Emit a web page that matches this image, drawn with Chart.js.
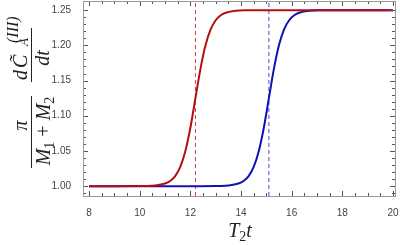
<!DOCTYPE html>
<html>
<head>
<meta charset="utf-8">
<script src="https://cdn.jsdelivr.net/npm/chart.js@4/dist/chart.umd.min.js"></script>
<style>
  html, body { margin: 0; padding: 0; background: #fff; }
  canvas { display: block; }
</style>
</head>
<body>
<canvas id="chart" width="400" height="245"></canvas>
<script>
// values
const redX = [8, 9, 10, 10.2, 10.6, 11.0, 11.2, 11.4, 11.6, 11.8, 12.0, 12.2, 12.4, 12.6, 12.8, 13.0, 13.2, 13.4, 13.8, 14.2, 15, 16, 18, 20];
const redY = [1.0, 1.0, 1.0001, 1.0002, 1.0009, 1.0037, 1.0073, 1.0143, 1.0273, 1.0495, 1.0830, 1.125, 1.1670, 1.2005, 1.2227, 1.2357, 1.2427, 1.2463, 1.2491, 1.2498, 1.25, 1.25, 1.25, 1.25];

const blueX = [8, 10, 12, 13, 13.1, 13.5, 13.9, 14.1, 14.3, 14.5, 14.7, 14.9, 15.1, 15.3, 15.5, 15.7, 15.9, 16.1, 16.3, 16.7, 17.1, 18, 20];
const blueY = [1.0, 1.0, 1.0, 1.0001, 1.0002, 1.0009, 1.0037, 1.0073, 1.0143, 1.0273, 1.0495, 1.0830, 1.125, 1.1670, 1.2005, 1.2227, 1.2357, 1.2427, 1.2463, 1.2491, 1.2498, 1.25, 1.25];

const markers = [12.2, 15.1];   // dashed verticals
const xTicks = [8, 10, 12, 14, 16, 18, 20];
const yTicks = [1.00, 1.05, 1.10, 1.15, 1.20, 1.25];

const xRange = [7.76, 20.08];
const yRange = [0.986, 1.263];

function pts(xs, ys) {
  return xs.map((x, i) => ({ x: x, y: ys[i] }));
}

const serif = "'Liberation Serif', 'DejaVu Serif', serif";
const sans = "'Liberation Sans', Arial, sans-serif";

function noPad(s) {
  s.paddingTop = 0; s.paddingBottom = 0; s.paddingLeft = 0; s.paddingRight = 0;
}

// inward ticks on all four sides + gray frame
const framePlugin = {
  id: "frame",
  afterDraw(chart) {
    const ctx = chart.ctx;
    const a = chart.chartArea;
    const xs = chart.scales.x, ys = chart.scales.y;
    ctx.save();
    ctx.strokeStyle = "#555";
    ctx.lineWidth = 1;
    ctx.beginPath();
    for (let v = 8; v <= 20.001; v += 0.5) {
      const px = Math.round(xs.getPixelForValue(v)) + 0.5;
      const len = Math.abs(v % 2) < 0.01 ? 5 : 3;
      ctx.moveTo(px, a.bottom); ctx.lineTo(px, a.bottom - len);
      ctx.moveTo(px, a.top); ctx.lineTo(px, a.top + len);
    }
    for (let i = 0; i <= 26; i++) {
      const v = 0.99 + i * 0.01;
      const py = Math.round(ys.getPixelForValue(v)) + 0.5;
      const len = i % 5 === 1 ? 5 : 3;
      ctx.moveTo(a.left, py); ctx.lineTo(a.left + len, py);
      ctx.moveTo(a.right, py); ctx.lineTo(a.right - len, py);
    }
    ctx.stroke();
    ctx.strokeStyle = "#999";
    ctx.strokeRect(Math.round(a.left) + 0.5, Math.round(a.top) + 0.5,
      Math.round(a.right - a.left), Math.round(a.bottom - a.top));
    ctx.restore();
  }
};

// draws runs of text [text, size, italic, dy] from x, returns end x
function runs(ctx, list, x, y) {
  list.forEach(r => {
    ctx.font = (r[2] ? "italic " : "") + r[1] + "px " + serif;
    ctx.fillText(r[0], x, y + r[3]);
    x += ctx.measureText(r[0]).width;
  });
  return x;
}

function runsWidth(ctx, list) {
  let w = 0;
  list.forEach(r => {
    ctx.font = (r[2] ? "italic " : "") + r[1] + "px " + serif;
    w += ctx.measureText(r[0]).width;
  });
  return w;
}

const titlePlugin = {
  id: "titles",
  afterDraw(chart) {
    const ctx = chart.ctx;
    ctx.save();
    ctx.fillStyle = "#222";
    ctx.strokeStyle = "#222";
    ctx.textBaseline = "alphabetic";

    // x title: T_2 t
    const xt = [["T", 20, true, 0], ["2", 14, false, 4], ["t", 20, true, 0]];
    runs(ctx, xt, 240 - runsWidth(ctx, xt) / 2, 237);

    // y title, rotated (local x runs upward)
    ctx.translate(31, 168);
    ctx.rotate(-Math.PI / 2);
    ctx.lineWidth = 1;
    ctx.beginPath();
    ctx.moveTo(0, 0.5); ctx.lineTo(72, 0.5);
    ctx.moveTo(86, 0.5); ctx.lineTo(140, 0.5);
    ctx.stroke();

    const pi = [["π", 20, true, 0]];
    runs(ctx, pi, 42.5 - runsWidth(ctx, pi) / 2, -4);
    const den1 = [["M", 20, true, 0], ["1", 14, false, 4], [" + ", 20, false, 0], ["M", 20, true, 0], ["2", 14, false, 4]];
    runs(ctx, den1, 37 - runsWidth(ctx, den1) / 2, 19);

    runs(ctx, [["d", 20, true, 0]], 88, -4);
    runs(ctx, [["C\u0303", 20, true, 0]], 100, -4);
    ctx.font = "italic 13px " + serif;
    ctx.fillText("A", 122, -3);
    ctx.font = "italic 16px " + serif;
    ctx.fillText("(III)", 125, -13);
    const den2 = [["dt", 20, true, 0]];
    runs(ctx, den2, 110 - runsWidth(ctx, den2) / 2, 18);
    ctx.restore();
  }
};

const datasets = [
  {
    data: pts(redX, redY), borderColor: "#b01010", borderWidth: 2,
    pointRadius: 0, cubicInterpolationMode: "monotone", fill: false
  },
  {
    data: pts(blueX, blueY), borderColor: "#1010b4", borderWidth: 2,
    pointRadius: 0, cubicInterpolationMode: "monotone", fill: false
  },
  {
    data: [{ x: markers[0], y: yRange[0] }, { x: markers[0], y: yRange[1] }],
    borderColor: "#d04040", borderWidth: 1, borderDash: [4, 3], pointRadius: 0
  },
  {
    data: [{ x: markers[1], y: yRange[0] }, { x: markers[1], y: yRange[1] }],
    borderColor: "#4848d8", borderWidth: 1, borderDash: [4, 3], pointRadius: 0
  }
];

new Chart(document.getElementById("chart").getContext("2d"), {
  type: "line",
  data: { datasets: datasets },
  options: {
    responsive: false,
    animation: false,
    devicePixelRatio: 1,
    layout: { padding: { left: 0, right: 5, top: 1, bottom: 0 } },
    plugins: { legend: { display: false }, tooltip: { enabled: false } },
    scales: {
      x: {
        type: "linear", min: xRange[0], max: xRange[1],
        grid: { display: false }, border: { display: false },
        afterBuildTicks: s => { s.ticks = xTicks.map(v => ({ value: v })); },
        afterFit: s => { s.height = 49; noPad(s); },
        ticks: { font: { size: 10, family: sans }, color: "#444", padding: 3, maxRotation: 0 }
      },
      y: {
        type: "linear", min: yRange[0], max: yRange[1],
        grid: { display: false }, border: { display: false },
        afterBuildTicks: s => { s.ticks = yTicks.map(v => ({ value: v })); },
        afterFit: s => { s.width = 83; noPad(s); },
        ticks: {
          font: { size: 10, family: sans }, color: "#444", padding: 4,
          callback: v => v.toFixed(2)
        }
      }
    }
  },
  plugins: [framePlugin, titlePlugin]
});
</script>
</body>
</html>
